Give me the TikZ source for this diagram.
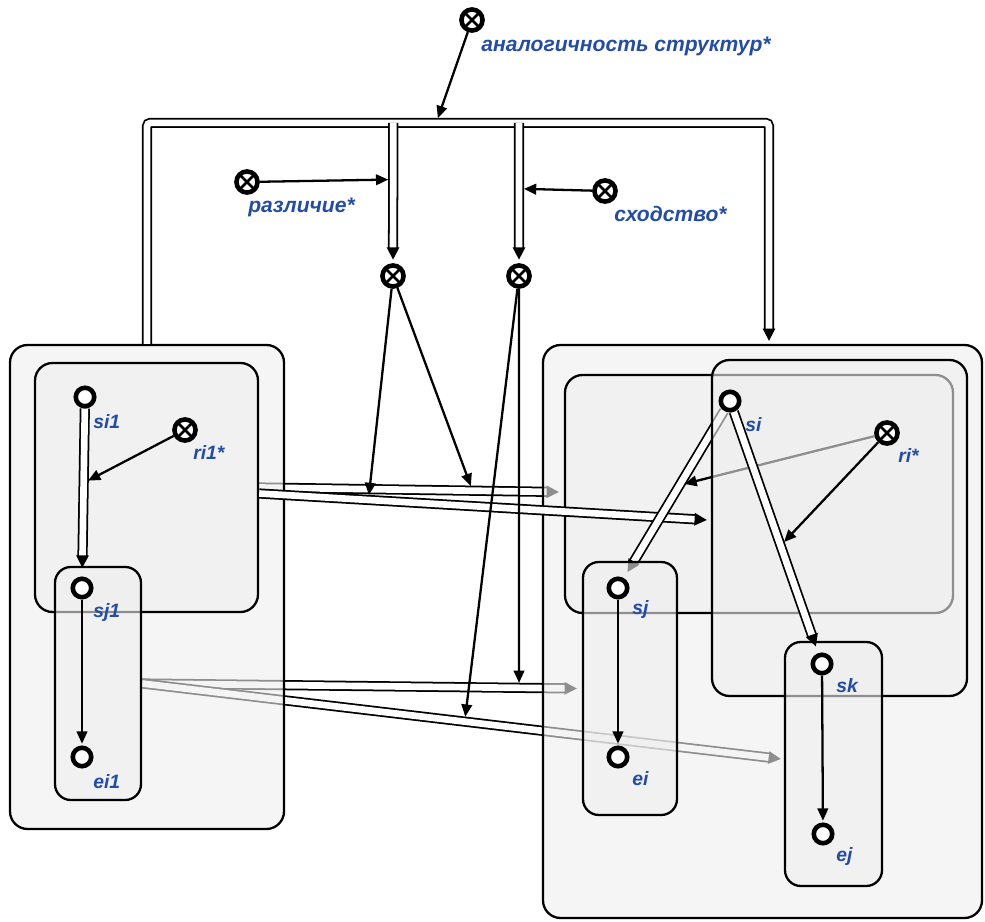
\documentclass[tikz,border=0pt]{standalone}
\usepackage{fontspec}
\newfontfamily\lblfont{Liberation Sans}
\usetikzlibrary{arrows.meta,calc,fit}
\pgfdeclarelayer{back}
\pgfdeclarelayer{lower}
\pgfdeclarelayer{mid}
\pgfdeclarelayer{front}
\pgfsetlayers{back,lower,mid,main,front}
\definecolor{lblblue}{RGB}{36,76,160}
\definecolor{boxgray}{RGB}{238,238,238}

\begin{document}
\begin{tikzpicture}[x=0.02cm, y=-0.02cm,
  vert/.style={circle, draw, fill=white, line width=2.6pt, minimum size=10.5pt, inner sep=0pt},
  rel/.style={vert, minimum size=12pt,
    path picture={\draw[line width=1.6pt]
      (path picture bounding box.north west) -- (path picture bounding box.south east)
      (path picture bounding box.north east) -- (path picture bounding box.south west);}},
  box/.style={draw, line width=1.3pt, fill=boxgray, fill opacity=0.6, rounded corners=10pt, inner sep=0pt},
  lbl/.style={anchor=west, inner sep=0pt, text=lblblue, font=\lblfont\bfseries\itshape\fontsize{11}{13}\selectfont},
  rulbl/.style={lbl, font=\lblfont\bfseries\itshape\fontsize{12}{14}\selectfont},
  arr/.style={line width=1.3pt, -{Triangle[length=7pt,width=6pt]}},
  dbl/.style={line width=1pt, double=white, double distance=3.8pt, -{Triangle[length=7pt,width=7pt]}},
  onb/.style={shorten >=2.8pt},
]
\useasboundingbox (0,0) rectangle (985,922);

\begin{pgfonlayer}{front}
  % Vertices
  \node[vert] (si1) at (85,397) {};
  \node[vert] (sj1) at (82,588) {};
  \node[vert] (ei1) at (82,757) {};
  \node[vert] (si) at (730,401) {};
  \node[vert] (sj) at (618,588) {};
  \node[vert] (ei) at (618,757) {};
  \node[vert] (sk) at (822,664) {};
  \node[vert] (ej) at (823,834) {};

  % Relations
  \node[rel] (ri1) at (185,430) {};
  \node[rel] (ri) at (887,433) {};
  \node[rel] (an) at (472,20) {};
  \node[rel] (raz) at (247,182) {};
  \node[rel] (shod) at (605,191) {};
  \node[rel] (razop) at (393,276) {};
  \node[rel] (shodop) at (519,276) {};

  % Labels
  \node[lbl] (lsi1) at (93,422) {si1};
  \node[lbl] (lri1) at (193,452) {ri1*};
  \node[lbl] (lsj1) at (93,613) {sj1};
  \node[lbl] (lei1) at (93,782) {ei1};
  \node[lbl] (lsi) at (745,425) {si};
  \node[lbl] (lri) at (898,455) {ri*};
  \node[lbl] (lsj) at (632,610) {sj};
  \node[lbl] (lei) at (632,779) {ei};
  \node[lbl] (lsk) at (836,686) {sk};
  \node[lbl] (lej) at (836,857) {ej};
  \node[rulbl] (lan) at (481,46) {аналогичность структур*};
  \node[rulbl] (lraz) at (248,207) {различие*};
  \node[rulbl] (lshod) at (614,214) {сходство*};
\end{pgfonlayer}

% Boxes behind
\begin{pgfonlayer}{lower}
  \node[box, fit={(10,345) (284,829)}] (lbox) {};
  \node[box, fit={(35,363) (258,612)}] (ltop) {};
  \node[box, fit={(55,567) (141,800)}, rounded corners=9pt] (lbot) {};
  \node[box, fit={(543,345) (982,918)}] (rbox) {};
  \node[box, fit={(565,375) (953,613)}] (rback) {};
\end{pgfonlayer}

% Boxes in front
\node[box, fit={(712,360) (967,696)}] (rfront) {};
\node[box, fit={(583,562) (677,815)}, rounded corners=9pt] (rmid) {};
\node[box, fit={(785,642) (882,886)}, rounded corners=9pt] (rlow) {};

% Band end points
\coordinate (acE) at ($(rback.west)+(-5,-2)$);
\coordinate (adS) at ($(ltop.east)+(0,6)$);
\coordinate (adE) at ($(rfront.west)+(-4,-8)$);
\coordinate (beE) at ($(rmid.west)+(-5,0)$);
\coordinate (bfE) at ($(rlow.west)+(-3,-5)$);

% Mappings between structures
\begin{pgfonlayer}{back}
  \draw[dbl] (ltop.east) -- (acE);
  \draw[dbl] (lbot.east) -- (beE);
  \draw[dbl] (lbot.east) -- (bfE);
\end{pgfonlayer}

\begin{pgfonlayer}{mid}
  \draw[dbl] (adS) -- (adE);
  \draw[dbl, shorten >=4pt] (si) -- (sj);
  \draw[arr, onb] (ri) -- ($(si)!0.45!(sj)$);
\end{pgfonlayer}

% Inside the structures
\draw[dbl, shorten >=4pt] (si) -- (sk);
\draw[arr, onb] (ri) -- ($(si)!0.55!(sk)$);
\draw[arr, shorten >=1pt] (sj) -- (ei);
\draw[arr, shorten >=1pt] (sk) -- (ej);
\draw[dbl, shorten >=5pt] (si1) -- (sj1);
\draw[arr, onb] (ri1) -- ($(si1)!0.45!(sj1)$);
\draw[arr, shorten >=1pt] (sj1) -- (ei1);

% Frame of the analogy
\coordinate (brl) at ($(lbox.north)+(0,-221)$);
\coordinate (brr) at ($(rbox.north)+(6.5,-221)$);
\coordinate (bl) at ($(brl)!0.396!(brr)$);
\coordinate (br) at ($(brl)!0.598!(brr)$);
\draw[dbl, rounded corners=2pt] (lbox.north) -- (brl) -- (brr) -- ($(rbox.north)+(6.5,-3)$);
\draw[dbl, shorten >=2pt] (bl) -- (razop);
\draw[dbl, shorten >=2pt] (br) -- (shodop);
\draw[arr, onb] (an) -- ($(brl)!0.465!(brr)$);
\draw[arr, onb] (raz) -- ($(bl)!0.37!(razop)$);
\draw[arr, onb] (shod) -- ($(br)!0.43!(shodop)$);

% Difference and similarity
\draw[arr, onb] (razop) -- ($(adS)!0.244!(adE)$);
\draw[arr, onb] (razop) -- ($(ltop.east)!0.712!(acE)$);
\draw[arr, onb] (shodop) -- ($(lbot.east)!0.867!(beE)$);
\draw[arr, onb] (shodop) -- ($(lbot.east)!0.505!(bfE)$);

\end{tikzpicture}
\end{document}
